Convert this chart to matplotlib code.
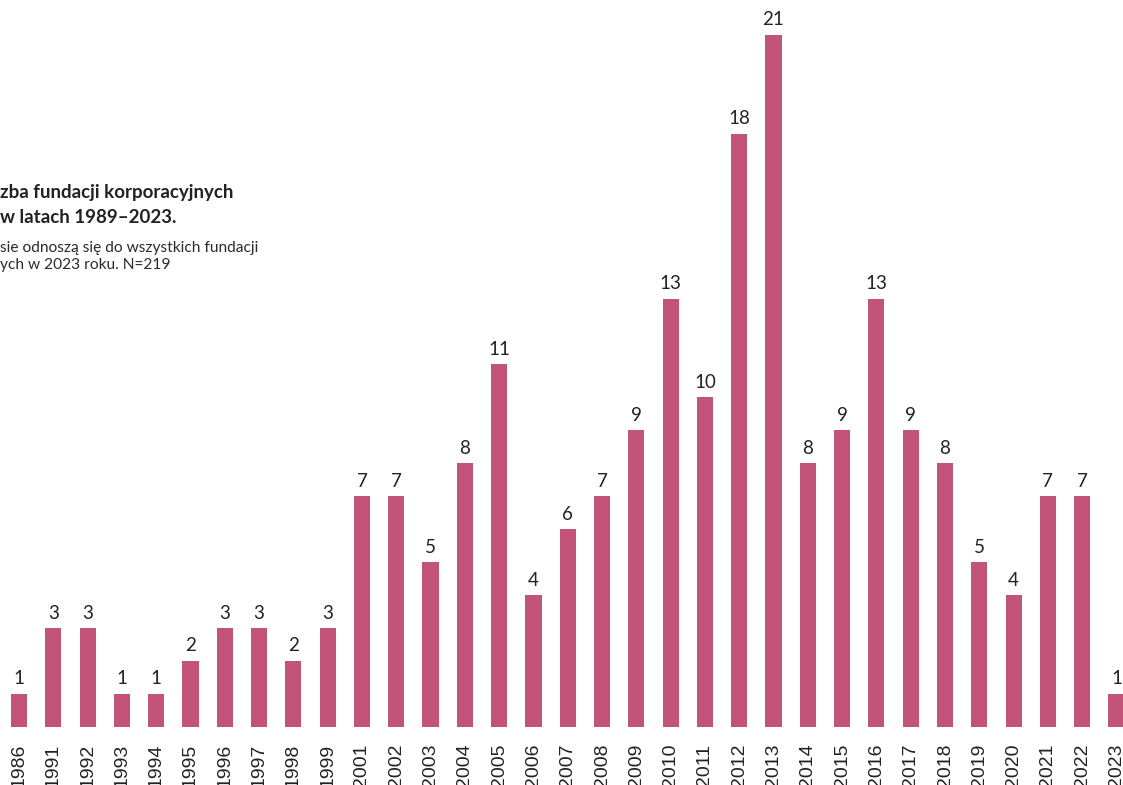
import matplotlib
matplotlib.use("Agg")
import matplotlib.pyplot as plt

# data
years = ["1986", "1991", "1992", "1993", "1994", "1995", "1996", "1997", "1998", "1999",
         "2001", "2002", "2003", "2004", "2005", "2006", "2007", "2008", "2009", "2010",
         "2011", "2012", "2013", "2014", "2015", "2016", "2017", "2018", "2019", "2020",
         "2021", "2022", "2023"]
counts = [1, 3, 3, 1, 1, 2, 3, 3, 2, 3,
          7, 7, 5, 8, 11, 4, 6, 7, 9, 13,
          10, 18, 21, 8, 9, 13, 9, 8, 5, 4,
          7, 7, 1]

title_lines = ["zba fundacji korporacyjnych", "w latach 1989–2023."]
note_lines = ["sie odnoszą się do wszystkich fundacji", "ych w 2023 roku. N=219"]

bar_color = "#C15478"
text_color = "#2b2b2b"

plt.rcParams["font.family"] = ["Lato", "DejaVu Sans"]

fig = plt.figure(figsize=(11.23, 7.85), dpi=100)
ax = fig.add_axes([0, 0.0739, 1, 0.9261])

x = list(range(len(years)))
bars = ax.bar(x, counts, width=0.47, color=bar_color)

for b, v in zip(bars, counts):
    ax.text(b.get_x() + b.get_width() / 2, v + 0.2, str(v),
            ha="center", va="bottom", fontsize=13.5, color="#222222")

ax.set_xlim(-0.554, 32.19)
ax.set_ylim(0, 22.06)
ax.set_xticks(x)
ax.set_xticklabels(years, rotation=90, fontsize=14, color="#222222", va="top",
                   family=["Liberation Sans", "DejaVu Sans"])
ax.tick_params(axis="x", length=0, pad=12)
ax.set_yticks([])
for s in ax.spines.values():
    s.set_visible(False)

# title and note, partly cut off at the left edge as in the source
for line, ypix in zip(title_lines, [198, 223]):
    fig.text(0.0, 1 - ypix / 785, line, ha="left", va="baseline",
             fontsize=13.5, fontweight="bold", color="#222222")
for line, ypix in zip(note_lines, [252, 269]):
    fig.text(0.0, 1 - ypix / 785, line, ha="left", va="baseline",
             fontsize=11.2, color=text_color)

fig.savefig("out.png", dpi=100)
